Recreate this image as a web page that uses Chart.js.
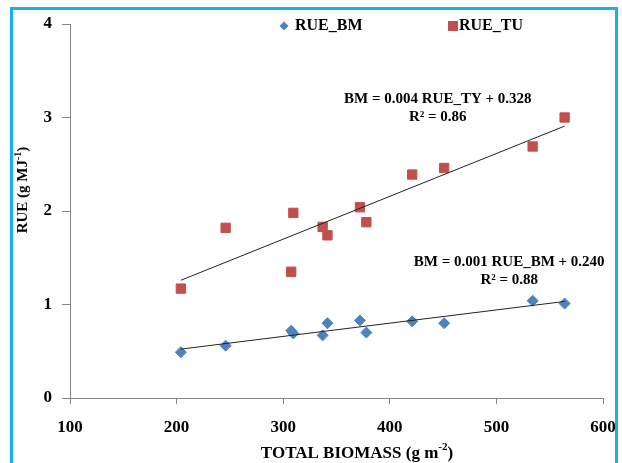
<!DOCTYPE html>
<html lang="en">
<head>
  <meta charset="UTF-8">
  <title>RUE vs Total Biomass</title>
  <script src="https://cdn.jsdelivr.net/npm/chart.js"></script>
  <style>
    html, body { margin: 0; padding: 0; background: #fff; }
    #wrap { position: relative; width: 622px; height: 463px; overflow: hidden; }
    #frame {
      position: absolute; left: 10px; top: 7px; width: 608px; height: 480px;
      box-sizing: border-box; border: 3px solid #14b1ef; pointer-events: none;
    }
  </style>
</head>
<body>
  <div id="wrap">
    <canvas id="rueChart" width="622" height="463"></canvas>
    <div id="frame"></div>
  </div>

  <script>
    // Values
    const biomass = [204, 246, 307.5, 309.5, 337, 341.5, 372, 378, 421, 451, 534, 564];
    const rueBM   = [0.49, 0.56, 0.72, 0.69, 0.67, 0.80, 0.83, 0.70, 0.82, 0.80, 1.04, 1.01];
    const rueTU   = [1.17, 1.82, 1.35, 1.98, 1.83, 1.74, 2.04, 1.88, 2.39, 2.46, 2.69, 3.00];
    const xTicks  = [100, 200, 300, 400, 500, 600];
    const yTicks  = [0, 1, 2, 3, 4];
    const seriesNames = ['RUE_BM', 'RUE_TU'];
    const equations = [
      ['BM = 0.001 RUE_BM + 0.240', 'R\u00b2 = 0.88'],
      ['BM = 0.004 RUE_TY + 0.328', 'R\u00b2 = 0.86']
    ];

    const BLUE = '#4F81BD';
    const RED = '#C0504D';
    const AXIS = '#868686';
    const FONT = '"Liberation Serif", "Times New Roman", serif';

    const toPoints = (xs, ys) => xs.map((x, i) => ({ x: x, y: ys[i] }));

    // least squares trend line over the data range (as the spreadsheet does)
    function trend(xs, ys) {
      const n = xs.length;
      const mx = xs.reduce((a, b) => a + b, 0) / n;
      const my = ys.reduce((a, b) => a + b, 0) / n;
      let sxy = 0, sxx = 0;
      xs.forEach((x, i) => { sxy += (x - mx) * (ys[i] - my); sxx += (x - mx) * (x - mx); });
      const k = sxy / sxx, b = my - k * mx;
      const lo = Math.min(...xs), hi = Math.max(...xs);
      return [{ x: lo, y: k * lo + b }, { x: hi, y: k * hi + b }];
    }

    // where the equation labels sit, in data units
    const eqAnchors = [{ x: 512, y: 1.45 }, { x: 445, y: 3.2 }];

    const extras = {
      id: 'extras',
      afterDraw(chart) {
        const ctx = chart.ctx;
        const xs = chart.scales.x, ys = chart.scales.y;
        ctx.save();
        ctx.fillStyle = '#000';

        // equations
        ctx.font = 'bold 15px ' + FONT;
        ctx.textAlign = 'center';
        ctx.textBaseline = 'middle';
        equations.forEach((lines, i) => {
          const px = xs.getPixelForValue(eqAnchors[i].x);
          const py = ys.getPixelForValue(eqAnchors[i].y);
          ctx.fillText(lines[0], px, py);
          ctx.fillText(lines[1], px, py + 18);
        });

        // legend
        ctx.font = 'bold 16px ' + FONT;
        ctx.textAlign = 'left';
        const ly = 26;
        ctx.fillStyle = BLUE;
        ctx.beginPath();
        ctx.moveTo(284, ly - 4.5); ctx.lineTo(288.5, ly); ctx.lineTo(284, ly + 4.5); ctx.lineTo(279.5, ly);
        ctx.closePath(); ctx.fill();
        ctx.fillStyle = '#000';
        ctx.fillText(seriesNames[0], 295, ly);
        ctx.fillStyle = RED;
        ctx.fillRect(448, ly - 5, 10, 10);
        ctx.fillStyle = '#000';
        ctx.fillText(seriesNames[1], 459, ly);

        // axis titles with superscripts
        function titled(main, sup, x, y, rotate, size) {
          const small = Math.round(size * 0.65);
          ctx.save();
          ctx.translate(x, y);
          if (rotate) ctx.rotate(-Math.PI / 2);
          ctx.font = 'bold ' + size + 'px ' + FONT;
          const w1 = ctx.measureText(main).width;
          const w3 = ctx.measureText(')').width;
          ctx.font = 'bold ' + small + 'px ' + FONT;
          const w2 = ctx.measureText(sup).width;
          const sx = -(w1 + w2 + w3) / 2;
          ctx.textAlign = 'left';
          ctx.textBaseline = 'alphabetic';
          ctx.font = 'bold ' + size + 'px ' + FONT;
          ctx.fillText(main, sx, size * 0.33);
          ctx.font = 'bold ' + small + 'px ' + FONT;
          ctx.fillText(sup, sx + w1, -size * 0.1);
          ctx.font = 'bold ' + size + 'px ' + FONT;
          ctx.fillText(')', sx + w1 + w2, size * 0.33);
          ctx.restore();
        }
        titled('TOTAL BIOMASS (g m', '-2', 357, 452, false, 17);
        titled('RUE (g MJ', '-1', 22, 190, true, 15);

        ctx.restore();
      }
    };

    const tickFont = { family: FONT, size: 17, weight: 'bold' };

    new Chart(document.getElementById('rueChart').getContext('2d'), {
      type: 'scatter',
      data: {
        datasets: [
          {
            label: seriesNames[0],
            data: toPoints(biomass, rueBM),
            pointStyle: 'rectRot',
            pointRadius: 5.5,
            backgroundColor: BLUE,
            borderColor: BLUE,
            borderWidth: 1,
            order: 2
          },
          {
            label: seriesNames[1],
            data: toPoints(biomass, rueTU),
            pointStyle: 'rect',
            pointRadius: 6.6,
            backgroundColor: RED,
            borderColor: RED,
            borderWidth: 1,
            order: 2
          },
          {
            type: 'line',
            data: trend(biomass, rueBM),
            borderColor: '#222',
            borderWidth: 1,
            pointRadius: 0,
            fill: false,
            order: 1
          },
          {
            type: 'line',
            data: trend(biomass, rueTU),
            borderColor: '#222',
            borderWidth: 1,
            pointRadius: 0,
            fill: false,
            order: 1
          }
        ]
      },
      options: {
        responsive: false,
        animation: false,
        layout: { padding: { left: 20, top: 24, right: 19, bottom: 0 } },
        plugins: { legend: { display: false }, tooltip: { enabled: false } },
        scales: {
          x: {
            type: 'linear',
            min: xTicks[0],
            max: xTicks[xTicks.length - 1],
            afterBuildTicks: s => { s.ticks = xTicks.map(v => ({ value: v })); },
            afterFit: s => { s.height = 65; s.paddingLeft = 0; s.paddingRight = 0; },
            border: { color: AXIS, width: 1 },
            grid: { drawOnChartArea: false, tickLength: 6, color: AXIS },
            ticks: { color: '#000', font: tickFont, padding: 13, maxRotation: 0 }
          },
          y: {
            min: yTicks[0],
            max: yTicks[yTicks.length - 1],
            afterBuildTicks: s => { s.ticks = yTicks.map(v => ({ value: v })); },
            afterFit: s => { s.width = 50; s.paddingTop = 0; s.paddingBottom = 0; },
            border: { color: AXIS, width: 1 },
            grid: { drawOnChartArea: false, tickLength: 8, color: AXIS },
            ticks: { color: '#000', font: tickFont, padding: 10 }
          }
        }
      },
      plugins: [extras]
    });
  </script>
</body>
</html>
